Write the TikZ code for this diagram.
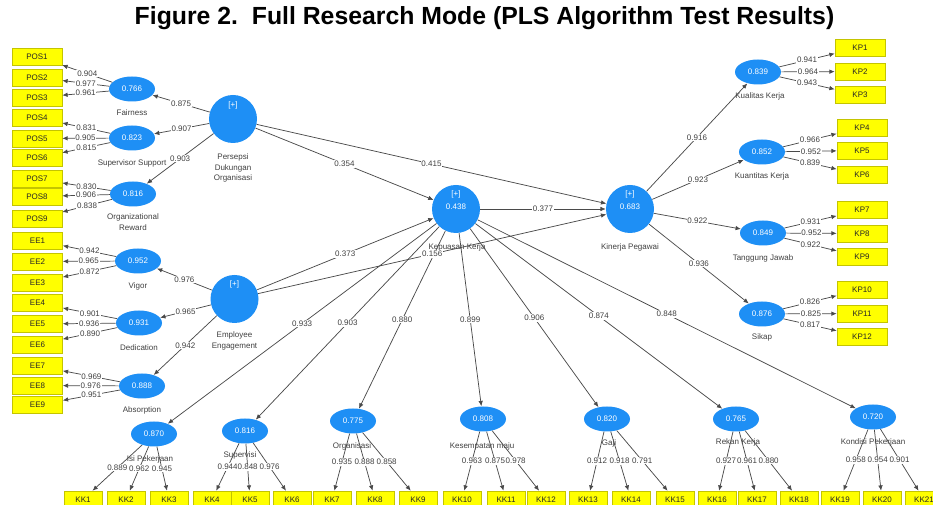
\documentclass[tikz,border=0pt]{standalone}
\usepackage{fontspec}
\setmainfont{Liberation Sans}
\usetikzlibrary{shapes.geometric,arrows.meta}
\definecolor{lvblue}{HTML}{1E8FF5}
\definecolor{pathgray}{HTML}{4A4A4A}
\definecolor{indyellow}{HTML}{FFFF00}
\definecolor{indborder}{HTML}{C4C400}
\definecolor{nametext}{HTML}{404040}
\begin{document}
\begin{tikzpicture}[x=0.75pt,y=-0.75pt,
  every node/.style={font=\fontsize{6}{7.8}\selectfont},
  lv/.style={circle,fill=lvblue,minimum size=36pt,inner sep=0pt},
  lvs/.style={ellipse,fill=lvblue,minimum width=34.5pt,minimum height=18.75pt,inner sep=0pt,text=white},
  ind/.style={rectangle,fill=indyellow,draw=indborder,line width=0.4pt,minimum width=37.5pt,minimum height=12.75pt,inner sep=0pt,text=black!85},
  kk/.style={ind,minimum width=28.5pt},
  nm/.style={text=nametext,align=center,inner sep=0pt},
  inw/.style={text=white,inner sep=0pt},
  pth/.style={draw=pathgray,line width=0.55pt,-{Latex[length=4pt,width=3.4pt]}},
  val/.style={fill=white,inner sep=0.6pt,text=nametext}]

\fill[white] (0,0) rectangle (933,505);
\useasboundingbox (0,0) rectangle (933,505);

% title
\node[anchor=base,inner sep=0pt,font=\fontsize{18.6}{20}\selectfont\bfseries] (title) at (484.5,25) {Figure 2.\ \ Full Research Mode (PLS Algorithm Test Results)};

% indicators: Persepsi Dukungan Organisasi
\foreach \n/\y in {POS1/56.5,POS2/77.5,POS3/97.5,POS4/117.5,POS5/138.5,POS6/158,POS7/179,POS8/196.5,POS9/218.5}
  \node[ind] (\n) at (37,\y) {\n};
% indicators: Employee Engagement
\foreach \n/\y in {EE1/240.5,EE2/261.5,EE3/282.5,EE4/303,EE5/324,EE6/344.5,EE7/366,EE8/385.5,EE9/405}
  \node[ind] (\n) at (37.5,\y) {\n};
% indicators: Kinerja Pegawai
\foreach \n/\y in {KP1/47.5,KP2/71.5,KP3/95}
  \node[ind] (\n) at (860,\y) {\n};
\foreach \n/\y in {KP4/127.5,KP5/150.5,KP6/175,KP7/210,KP8/233.5,KP9/257,KP10/289.5,KP11/313.5,KP12/336.5}
  \node[ind] (\n) at (862,\y) {\n};
% indicators: Kepuasan Kerja
\foreach \n/\x in {KK1/83,KK2/126,KK3/169,KK4/212,KK5/250,KK6/292,KK7/332,KK8/375,KK9/418,KK10/462,KK11/506,KK12/546,KK13/588,KK14/631,KK15/675,KK16/717,KK17/757,KK18/799,KK19/840,KK20/882,KK21/924}
  \node[kk] (\n) at (\x,499.5) {\n};

% construct names
\node[nm] at (132,113) {Fairness};
\node[nm] at (132,163) {Supervisor Support};
\node[nm] at (133,222) {Organizational\\Reward};
\node[nm] at (233,168) {Persepsi\\Dukungan\\Organisasi};
\node[nm] at (138,286) {Vigor};
\node[nm] at (139,348) {Dedication};
\node[nm] at (142,410) {Absorption};
\node[nm] at (234.5,341) {Employee\\Engagement};
\node[nm] at (457,247) {Kepuasan Kerja};
\node[nm] at (630,247) {Kinerja Pegawai};
\node[nm] at (760,96) {Kualitas Kerja};
\node[nm] at (762,176) {Kuantitas Kerja};
\node[nm] at (763,258) {Tanggung Jawab};
\node[nm] at (762,337) {Sikap};
\node[nm] at (150,459) {Isi Pekerjaan};
\node[nm] at (240,455) {Supervisi};
\node[nm] at (352,446) {Organisasi};
\node[nm] at (482,446) {Kesempatan maju};
\node[nm] at (609,443) {Gaji};
\node[nm] at (738,442) {Rekan Kerja};
\node[nm] at (873,442) {Kondisi Pekerjaan};

% higher-order constructs
\node[lv] (PDO) at (233,119) {};
\node[inw] at (233,105) {[+]};
\node[lv] (EEG) at (234.5,299) {};
\node[inw] at (234.5,284) {[+]};
\node[lv] (KPK) at (456,209) {};
\node[inw] at (456,194) {[+]};
\node[inw] at (456,207) {0.438};
\node[lv] (KPG) at (630,209) {};
\node[inw] at (630,194) {[+]};
\node[inw] at (630,207) {0.683};

% first-order constructs
\foreach \n/\x/\y/\r in {FAI/132/89/0.766,SUP/132/138/0.823,ORW/133/194/0.816,
  VIG/138/261/0.952,DED/139/323/0.931,ABS/142/386/0.888,
  KUA/758/72/0.839,KUN/762/152/0.852,TGJ/763/233/0.849,SKP/762/314/0.876,
  ISI/154/434/0.870,SPV/245/431/0.816,ORG/353/421/0.775,KSM/483/419/0.808,
  GAJ/607/419/0.820,RKK/736/419/0.765,KDP/873/417/0.720}
  \node[lvs] (\n) at (\x,\y) {\r};

% outer loadings
\foreach \s/\t/\v in {FAI/POS1/0.904,FAI/POS2/0.977,FAI/POS3/0.961,
  SUP/POS4/0.831,SUP/POS5/0.905,SUP/POS6/0.815,
  ORW/POS7/0.830,ORW/POS8/0.906,ORW/POS9/0.838,
  VIG/EE1/0.942,VIG/EE2/0.965,VIG/EE3/0.872,
  DED/EE4/0.901,DED/EE5/0.936,DED/EE6/0.890,
  ABS/EE7/0.969,ABS/EE8/0.976,ABS/EE9/0.951,
  KUA/KP1/0.941,KUA/KP2/0.964,KUA/KP3/0.943,
  KUN/KP4/0.966,KUN/KP5/0.952,KUN/KP6/0.839,
  TGJ/KP7/0.931,TGJ/KP8/0.952,TGJ/KP9/0.922,
  SKP/KP10/0.826,SKP/KP11/0.825,SKP/KP12/0.817,
  ISI/KK1/0.889,ISI/KK2/0.962,ISI/KK3/0.945,
  SPV/KK4/0.944,SPV/KK5/0.848,SPV/KK6/0.976,
  ORG/KK7/0.935,ORG/KK8/0.888,ORG/KK9/0.858,
  KSM/KK10/0.963,KSM/KK11/0.875,KSM/KK12/0.978,
  GAJ/KK13/0.912,GAJ/KK14/0.918,GAJ/KK15/0.791,
  RKK/KK16/0.927,RKK/KK17/0.961,RKK/KK18/0.880,
  KDP/KK19/0.958,KDP/KK20/0.954,KDP/KK21/0.901}
  \draw[pth] (\s) -- node[val] {\v} (\t);

% path coefficients
\foreach \s/\t/\v in {PDO/FAI/0.875,PDO/SUP/0.907,PDO/ORW/0.903,
  EEG/VIG/0.976,EEG/DED/0.965,EEG/ABS/0.942,
  KPG/KUA/0.916,KPG/KUN/0.923,KPG/TGJ/0.922,KPG/SKP/0.936,
  KPK/ISI/0.933,KPK/SPV/0.903,KPK/ORG/0.880,KPK/KSM/0.899,
  KPK/GAJ/0.906,KPK/RKK/0.874,KPK/KDP/0.848,
  PDO/KPK/0.354,PDO/KPG/0.415,KPK/KPG/0.377,EEG/KPK/0.373,EEG/KPG/0.156}
  \draw[pth] (\s) -- node[val] {\v} (\t);
\end{tikzpicture}
\end{document}
